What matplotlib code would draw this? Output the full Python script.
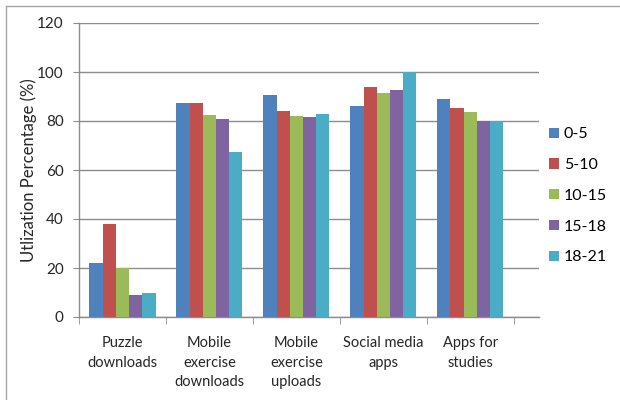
import matplotlib
matplotlib.use("Agg")
import matplotlib.pyplot as plt
from matplotlib.lines import Line2D
from matplotlib.patches import Patch
import numpy as np

categories = ["Puzzle\ndownloads", "Mobile\nexercise\ndownloads", "Mobile\nexercise\nuploads",
              "Social media\napps", "Apps for\nstudies"]
age_groups = ["0-5", "5-10", "10-15", "15-18", "18-21"]
values_0_5 = [22, 87.5, 90.5, 86, 89]
values_5_10 = [38, 87.5, 84, 94, 85.5]
values_10_15 = [20, 82.5, 82, 91.5, 83.5]
values_15_18 = [9, 81, 81.5, 92.5, 80]
values_18_21 = [10, 67.5, 83, 100, 80]
series = [values_0_5, values_5_10, values_10_15, values_15_18, values_18_21]
colors = ["#4F81BD", "#C0504D", "#9BBB59", "#8064A2", "#4BACC6"]
yticks = [0, 20, 40, 60, 80, 100, 120]

plt.rcParams['font.family'] = ['Lato', 'DejaVu Sans']
grid_c = "#8c8c8c"
text_c = "#262626"

fig = plt.figure(figsize=(6.2, 4.0), dpi=100)
ax = fig.add_axes([79/620, 1 - 317/400, 460/620, 294/400])

x = np.arange(len(categories))
w = 0.152
for i, (vals, c) in enumerate(zip(series, colors)):
    ax.bar(x + (i - 2) * w, vals, width=w, color=c, zorder=3, label=age_groups[i])

ax.set_ylim(0, 120)
ax.set_xlim(-0.5, 4.79)
ax.set_yticks(yticks)
ax.set_yticklabels([str(t) for t in yticks], fontsize=11, color=text_c)
ax.yaxis.grid(True, color=grid_c, linewidth=1.0, zorder=0)
for s in ["top", "right"]:
    ax.spines[s].set_visible(False)
for s in ["left", "bottom"]:
    ax.spines[s].set_color(grid_c)
    ax.spines[s].set_linewidth(1.0)

ax.set_xticks(x)
ax.set_xticklabels(categories, fontsize=10.5, color=text_c, linespacing=1.5)
ax.tick_params(axis="x", which="major", length=0, pad=14)
ax.set_xticks(np.arange(-0.5, 5.0, 1.0), minor=True)
ax.tick_params(axis="x", which="minor", length=5, color=grid_c, direction="out")
ax.tick_params(axis="y", length=4, color=grid_c, pad=7)

ax.set_ylabel("Utlization Percentage (%)", fontsize=12, color=text_c)
ax.yaxis.set_label_coords(-42/460, 0.5)

handles = [Patch(facecolor=c, edgecolor="none") for c in colors]
fig.legend(handles, age_groups, loc="upper left", bbox_to_anchor=(543/620, 1 - 121/400),
           frameon=False, fontsize=11.5, handlelength=0.6, handleheight=0.6,
           handletextpad=0.3, labelspacing=1.05, borderaxespad=0)

# outer chart frame
fig.add_artist(Line2D([6/620, 6/620], [0, 1 - 6/400], color="#a6a6a6", linewidth=1.0,
                      transform=fig.transFigure))
fig.add_artist(Line2D([6/620, 1], [1 - 6/400, 1 - 6/400], color="#a6a6a6", linewidth=1.0,
                      transform=fig.transFigure))

fig.savefig("out.png", dpi=100)
